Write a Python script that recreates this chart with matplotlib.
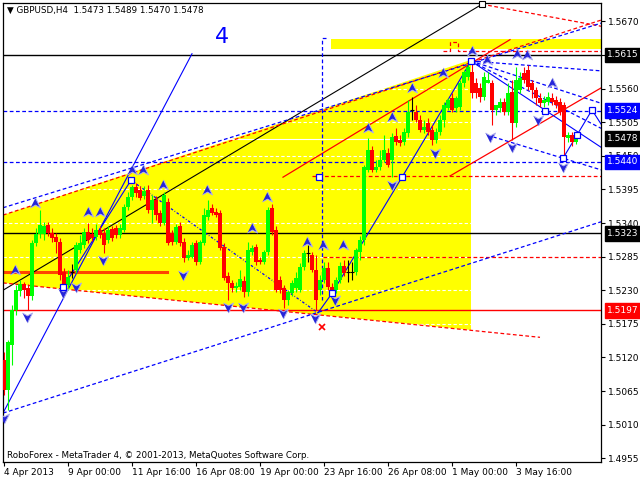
import numpy as np
import matplotlib
matplotlib.use('Agg')
import matplotlib.pyplot as plt

# GBPUSD H4 candles, 4 Apr 2013 08:00 .. 6 May 2013
opens = [1.5116, 1.5067, 1.5140, 1.5198, 1.5229, 1.5240, 1.5234, 1.5220, 1.5307, 1.5322,
         1.5322, 1.5337, 1.5324, 1.5317, 1.5309, 1.5260, 1.5238, 1.5260, 1.5263, 1.5296,
         1.5304, 1.5325, 1.5322, 1.5317, 1.5329, 1.5324, 1.5312, 1.5330, 1.5332, 1.5320,
         1.5329, 1.5366, 1.5383, 1.5399, 1.5394, 1.5384, 1.5394, 1.5361, 1.5378, 1.5356,
         1.5340, 1.5374, 1.5324, 1.5309, 1.5335, 1.5309, 1.5283, 1.5284, 1.5307, 1.5276,
         1.5307, 1.5350, 1.5365, 1.5358, 1.5356, 1.5301, 1.5253, 1.5242, 1.5234, 1.5235,
         1.5245, 1.5227, 1.5292, 1.5301, 1.5279, 1.5276, 1.5292, 1.5365, 1.5329, 1.5247,
         1.5234, 1.5214, 1.5225, 1.5234, 1.5230, 1.5268, 1.5291, 1.5288, 1.5263, 1.5230,
         1.5247, 1.5266, 1.5235, 1.5230, 1.5247, 1.5270, 1.5260, 1.5260, 1.5260, 1.5292,
         1.5312, 1.5427, 1.5459, 1.5427, 1.5432, 1.5443, 1.5455, 1.5443, 1.5482, 1.5476,
         1.5473, 1.5487, 1.5525, 1.5522, 1.5509, 1.5492, 1.5504, 1.5492, 1.5476, 1.5489,
         1.5509, 1.5528, 1.5545, 1.5528, 1.5530, 1.5569, 1.5579, 1.5587, 1.5569, 1.5561,
         1.5546, 1.5569, 1.5569, 1.5525, 1.5528, 1.5538, 1.5522, 1.5554, 1.5504, 1.5558,
         1.5586, 1.5590, 1.5569, 1.5558, 1.5545, 1.5536, 1.5538, 1.5545, 1.5541, 1.5538,
         1.5533, 1.5479, 1.5484, 1.5473]
highs = [1.5129, 1.5149, 1.5206, 1.5238, 1.5247, 1.5243, 1.5240, 1.5312, 1.5332, 1.5361,
         1.5342, 1.5342, 1.5332, 1.5324, 1.5315, 1.5266, 1.5263, 1.5273, 1.5309, 1.5320,
         1.5332, 1.5340, 1.5332, 1.5338, 1.5335, 1.5332, 1.5335, 1.5335, 1.5337, 1.5338,
         1.5371, 1.5391, 1.5402, 1.5405, 1.5400, 1.5400, 1.5402, 1.5386, 1.5384, 1.5361,
         1.5391, 1.5381, 1.5329, 1.5338, 1.5342, 1.5315, 1.5296, 1.5309, 1.5312, 1.5312,
         1.5365, 1.5378, 1.5371, 1.5365, 1.5361, 1.5307, 1.5260, 1.5247, 1.5243, 1.5263,
         1.5253, 1.5309, 1.5304, 1.5306, 1.5284, 1.5296, 1.5366, 1.5371, 1.5335, 1.5253,
         1.5238, 1.5230, 1.5247, 1.5260, 1.5274, 1.5296, 1.5304, 1.5292, 1.5288, 1.5255,
         1.5276, 1.5276, 1.5242, 1.5252, 1.5276, 1.5279, 1.5279, 1.5276, 1.5299, 1.5319,
         1.5435, 1.5479, 1.5466, 1.5443, 1.5459, 1.5484, 1.5463, 1.5487, 1.5496, 1.5484,
         1.5496, 1.5541, 1.5546, 1.5533, 1.5517, 1.5509, 1.5512, 1.5500, 1.5496, 1.5517,
         1.5538, 1.5545, 1.5553, 1.5548, 1.5574, 1.5590, 1.5607, 1.5605, 1.5577, 1.5569,
         1.5587, 1.5587, 1.5574, 1.5533, 1.5545, 1.5545, 1.5569, 1.5574, 1.5595, 1.5587,
         1.5595, 1.5599, 1.5574, 1.5563, 1.5553, 1.5548, 1.5554, 1.5553, 1.5548, 1.5545,
         1.5538, 1.5489, 1.5489, 1.5489]
lows = [1.5058, 1.5034, 1.5108, 1.5189, 1.5220, 1.5217, 1.5198, 1.5214, 1.5302, 1.5315,
        1.5312, 1.5319, 1.5309, 1.5291, 1.5247, 1.5225, 1.5230, 1.5250, 1.5258, 1.5291,
        1.5299, 1.5307, 1.5311, 1.5312, 1.5315, 1.5291, 1.5307, 1.5311, 1.5315, 1.5315,
        1.5325, 1.5361, 1.5378, 1.5383, 1.5378, 1.5379, 1.5356, 1.5340, 1.5345, 1.5335,
        1.5337, 1.5304, 1.5304, 1.5306, 1.5302, 1.5276, 1.5279, 1.5283, 1.5271, 1.5273,
        1.5304, 1.5345, 1.5353, 1.5350, 1.5296, 1.5247, 1.5214, 1.5227, 1.5227, 1.5230,
        1.5219, 1.5220, 1.5288, 1.5271, 1.5273, 1.5273, 1.5288, 1.5320, 1.5227, 1.5225,
        1.5201, 1.5206, 1.5220, 1.5227, 1.5227, 1.5263, 1.5276, 1.5260, 1.5197, 1.5222,
        1.5242, 1.5230, 1.5225, 1.5225, 1.5242, 1.5253, 1.5243, 1.5247, 1.5255, 1.5279,
        1.5304, 1.5423, 1.5423, 1.5423, 1.5427, 1.5440, 1.5432, 1.5415, 1.5468, 1.5466,
        1.5468, 1.5481, 1.5509, 1.5505, 1.5489, 1.5487, 1.5484, 1.5468, 1.5471, 1.5484,
        1.5497, 1.5525, 1.5522, 1.5522, 1.5525, 1.5563, 1.5574, 1.5545, 1.5545, 1.5538,
        1.5541, 1.5569, 1.5500, 1.5517, 1.5522, 1.5517, 1.5517, 1.5476, 1.5497, 1.5553,
        1.5569, 1.5558, 1.5545, 1.5533, 1.5530, 1.5530, 1.5533, 1.5533, 1.5528, 1.5517,
        1.5444, 1.5473, 1.5466, 1.5470]
closes = [1.5067, 1.5145, 1.5198, 1.5230, 1.5240, 1.5230, 1.5220, 1.5307, 1.5322, 1.5337,
          1.5335, 1.5324, 1.5315, 1.5309, 1.5255, 1.5237, 1.5252, 1.5260, 1.5304, 1.5307,
          1.5325, 1.5312, 1.5315, 1.5329, 1.5320, 1.5304, 1.5329, 1.5315, 1.5320, 1.5332,
          1.5366, 1.5383, 1.5399, 1.5389, 1.5381, 1.5392, 1.5361, 1.5378, 1.5353, 1.5340,
          1.5386, 1.5307, 1.5309, 1.5333, 1.5307, 1.5283, 1.5288, 1.5304, 1.5276, 1.5309,
          1.5353, 1.5361, 1.5356, 1.5353, 1.5299, 1.5250, 1.5242, 1.5234, 1.5237, 1.5248,
          1.5227, 1.5296, 1.5299, 1.5276, 1.5276, 1.5292, 1.5361, 1.5325, 1.5230, 1.5230,
          1.5214, 1.5227, 1.5242, 1.5250, 1.5268, 1.5291, 1.5291, 1.5263, 1.5214, 1.5247,
          1.5266, 1.5235, 1.5230, 1.5247, 1.5270, 1.5258, 1.5260, 1.5260, 1.5296, 1.5312,
          1.5432, 1.5459, 1.5427, 1.5432, 1.5443, 1.5459, 1.5435, 1.5481, 1.5473, 1.5471,
          1.5489, 1.5522, 1.5525, 1.5509, 1.5492, 1.5497, 1.5489, 1.5476, 1.5489, 1.5509,
          1.5533, 1.5541, 1.5525, 1.5545, 1.5569, 1.5587, 1.5595, 1.5553, 1.5553, 1.5546,
          1.5579, 1.5574, 1.5525, 1.5533, 1.5538, 1.5522, 1.5553, 1.5504, 1.5574, 1.5577,
          1.5574, 1.5563, 1.5558, 1.5545, 1.5536, 1.5541, 1.5546, 1.5538, 1.5533, 1.5522,
          1.5481, 1.5484, 1.5473, 1.5478]

time_label_bars = [0, 16, 32, 48, 64, 80, 96, 112, 128]
time_labels = ['4 Apr 2013', '9 Apr 00:00', '11 Apr 16:00', '16 Apr 08:00', '19 Apr 00:00',
               '23 Apr 16:00', '26 Apr 08:00', '1 May 00:00', '3 May 16:00']
price_ticks = [1.4955, 1.5010, 1.5065, 1.5120, 1.5175, 1.5230, 1.5285, 1.5340,
               1.5395, 1.5450, 1.5505, 1.5560, 1.5615, 1.5670]

# levels with price boxes on the right scale
black_levels = [1.5615, 1.5323]
blue_levels = [1.5524, 1.5440]
red_level = 1.5197
bid = 1.5478
price_boxes = [(1.5615, 'black'), (1.5524, '#0000ff'), (1.5478, 'black'),
               (1.5440, '#0000ff'), (1.5323, 'black'), (1.5197, '#ff0000')]

# analysis objects, (bar, price) points
yellow_zone = [(-0.25, 1.5353), (116.75, 1.5607), (116.75, 1.5165), (-0.25, 1.5242)]
top_band = [(81.75, 1.5625), (149.25, 1.5625), (149.25, 1.5641), (81.75, 1.5641)]
red_step = [(109.75, 1.5621), (111.5, 1.5621), (111.5, 1.5636), (113.5, 1.5636),
            (113.5, 1.5621), (149.25, 1.5621)]
red_dash_levels = [(77, 1.5417), (79.75, 1.5284)]
orange_level = [(-0.25, 1.5260), (40.75, 1.5260)]
black_trend = [(-0.25, 1.5230), (119.5, 1.5698)]
red_dashed = [[(119.5, 1.5698), (149.25, 1.5662)],
              [(-0.25, 1.5353), (149.25, 1.5672)],
              [(-0.25, 1.5242), (134, 1.5153)]]
red_channel = [[(69.75, 1.5415), (126.5, 1.5640)],
               [(111.5, 1.5417), (149.25, 1.5561)]]
blue_dashed = [[(-0.25, 1.5365), (149.25, 1.5667)],
               [(-0.25, 1.5029), (149.25, 1.5342)],
               [(116.75, 1.5605), (149.25, 1.5589)],
               [(116.75, 1.5605), (149.25, 1.5536)],
               [(116.75, 1.5605), (149.25, 1.5495)],
               [(122.25, 1.5481), (149.25, 1.5427)],
               [(80.5, 1.5643), (79.5, 1.5643), (79.5, 1.5214)]]
blue_solid = [[(-0.25, 1.5029), (47, 1.5617)],
              [(14.75, 1.5235), (31.75, 1.5410)],
              [(78.5, 1.5193), (82, 1.5225), (99.5, 1.5415), (116.75, 1.5605), (149.25, 1.5464)],
              [(139.75, 1.5446), (143.25, 1.5484), (147, 1.5525), (149.25, 1.5502)]]
blue_dotted = [(31.75, 1.5410), (78.5, 1.5193)]
squares = [(14.75, 1.5235), (31.75, 1.5410), (82, 1.5225), (99.5, 1.5415), (116.75, 1.5605),
           (135.25, 1.5523), (139.75, 1.5446), (143.25, 1.5484), (147, 1.5525), (78.75, 1.5415)]
up_arrows = [(2.75, 1.5263), (7.75, 1.5373), (21, 1.5358), (24, 1.5358), (32, 1.5427),
             (34.75, 1.5427), (39.75, 1.5402), (50.75, 1.5394), (62, 1.5332), (65.75, 1.5383),
             (75.75, 1.5309), (79.75, 1.5304), (84.75, 1.5304), (91, 1.5495), (97, 1.5513),
             (102, 1.5561), (109.75, 1.5586), (117, 1.5622), (120.75, 1.5607), (128.25, 1.5617),
             (130.75, 1.5615), (137, 1.5569)]
down_arrows = [(0, 1.5021), (5.75, 1.5186), (14.75, 1.5225), (18, 1.5235), (24.75, 1.5279),
               (44.75, 1.5255), (56, 1.5202), (59.75, 1.5202), (69.75, 1.5193), (77.75, 1.5184),
               (82.75, 1.5214), (97, 1.5402), (107.75, 1.5455), (121.5, 1.5481), (127, 1.5464),
               (133.5, 1.5509), (139.75, 1.5432)]
wave_label = (54.5, 1.5644, '4')
cross_mark = (79.5, 1.5170)

X0, X1 = -0.25, 149.25
DASH = (0, (3, 2))

fig = plt.figure(figsize=(6.4, 4.8), dpi=100)
ax = fig.add_axes([3 / 640, 18 / 480, 598 / 640, 459 / 480])
ax.set_xlim(X0, X1)
ax.set_ylim(1.4949, 1.5700)


def draw(points, **kw):
    xs, ys = zip(*points)
    ax.plot(xs, ys, **kw)


# zones
xs, ys = zip(*yellow_zone)
ax.fill(xs, ys, color='#ffff00', lw=0, zorder=0.5)
xs, ys = zip(*top_band)
ax.fill(xs, ys, color='#ffff00', lw=0, zorder=0.5)

# grid (only shows on yellow) and bid line
ax.hlines(price_ticks, X0, X1, colors='white', linestyles=DASH, lw=0.8, zorder=0.8)
ax.axhline(bid, color='white', lw=0.8, zorder=0.8)

# horizontal levels
for p in black_levels:
    ax.axhline(p, color='black', lw=1, zorder=2)
for p in blue_levels:
    ax.axhline(p, color='#0000ff', lw=0.9, ls=DASH, zorder=2)
ax.axhline(red_level, color='#ff0000', lw=1, zorder=2)
for b, p in red_dash_levels:
    ax.plot([b, X1], [p, p], color='#ff0000', lw=0.9, ls=DASH, zorder=2)
draw(orange_level, color='#ff4500', lw=2.2, zorder=2)
draw(red_step, color='#ff0000', lw=0.9, ls=DASH, zorder=2)

# trend lines
draw(black_trend, color='black', lw=0.8, zorder=2)
for seg in red_dashed:
    draw(seg, color='#ff0000', lw=0.9, ls=DASH, zorder=2)
for seg in red_channel:
    draw(seg, color='#ff0000', lw=0.9, zorder=2)
for seg in blue_dashed:
    draw(seg, color='#0000ff', lw=0.9, ls=DASH, zorder=2)
for seg in blue_solid:
    draw(seg, color='#0000ff', lw=0.8, zorder=2)
draw(blue_dotted, color='#0000ff', lw=0.9, ls=(0, (2, 1.5, 0.6, 1.5)), zorder=2)

# candles
o = np.array(opens)
h = np.array(highs)
l = np.array(lows)
c = np.array(closes)
idx = np.arange(len(o))
colors = np.where(c > o, '#00ff00', np.where(c < o, '#ff0000', 'black'))
ax.vlines(idx, l, h, colors=colors, lw=0.8, zorder=3)
body = c != o
ax.bar(idx[body], (c - o)[body], bottom=o[body], width=0.8, color=colors[body], lw=0, zorder=3)
ax.hlines(c[~body], idx[~body] - 0.45, idx[~body] + 0.45, colors='black', lw=0.8, zorder=3)

# arrows and markers
up_shape = [(0, 1), (0.9, -0.8), (0, -0.3), (-0.9, -0.8)]
down_shape = [(x, -y) for x, y in up_shape]
xs, ys = zip(*up_arrows)
ax.plot(xs, ys, ls='none', marker=up_shape, ms=8, mfc='#2626d9', mec='#b0b0ee', mew=0.7, zorder=4)
xs, ys = zip(*down_arrows)
ax.plot(xs, ys, ls='none', marker=down_shape, ms=8, mfc='#2626d9', mec='#b0b0ee', mew=0.7, zorder=4)
xs, ys = zip(*squares)
ax.plot(xs, ys, ls='none', marker='s', ms=5, mfc='white', mec='#0000ff', mew=0.9, zorder=5)
ax.plot(black_trend[1][0], black_trend[1][1], ls='none', marker='s', ms=4, mfc='white',
        mec='black', mew=0.8, zorder=5, clip_on=False)
ax.plot(*cross_mark, ls='none', marker='x', ms=4, color='#ff0000', mew=1.2, zorder=5)
ax.text(wave_label[0], wave_label[1], wave_label[2], color='#0000ff', fontsize=16,
        ha='center', va='center', zorder=5)

# axes
for s in ax.spines.values():
    s.set_color('black')
    s.set_linewidth(0.9)
ax.yaxis.tick_right()
ax.set_yticks(price_ticks)
ax.set_yticklabels([f'{p:.4f}' for p in price_ticks])
ax.tick_params(axis='y', direction='out', length=3, width=0.8, labelsize=6.5, pad=2)
ax.set_xticks(time_label_bars)
ax.set_xticklabels(time_labels, ha='left')
ax.tick_params(axis='x', direction='out', length=3, width=0.8, labelsize=6.5, pad=1.5)

for p, col in price_boxes:
    ax.annotate(f'{p:.4f}', xy=(1, p), xycoords=ax.get_yaxis_transform(),
                xytext=(4.5, 0), textcoords='offset points', va='center', ha='left',
                fontsize=6.5, color='white', annotation_clip=False, zorder=10,
                bbox=dict(boxstyle='square,pad=0.3', fc=col, ec=col))

fig.text(7 / 640, 1 - 10 / 480, '\u25bc GBPUSD,H4  1.5473 1.5489 1.5470 1.5478',
         fontsize=6.3, va='center', ha='left')
fig.text(7 / 640, 1 - 455 / 480,
         'RoboForex - MetaTrader 4, \u00a9 2001-2013, MetaQuotes Software Corp.',
         fontsize=6.3, va='center', ha='left')

fig.savefig('out.png', dpi=100)
